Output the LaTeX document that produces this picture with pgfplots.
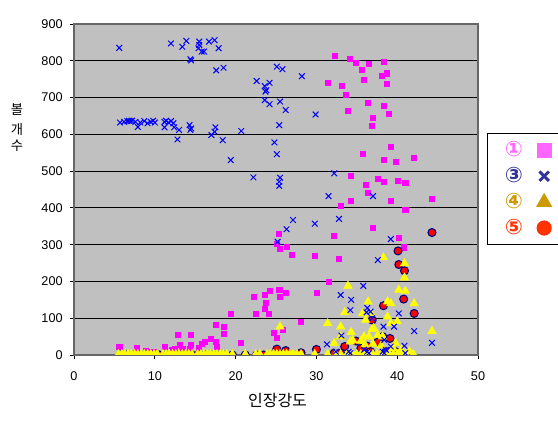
\documentclass[border=0pt]{standalone}
\usepackage{pgfplots}
\pgfplotsset{compat=1.18}
\usepackage{fontspec}
\setmainfont{Liberation Sans}
\newfontfamily\kr{Noto Sans CJK KR}
\newfontfamily\dv{DejaVu Sans}

\definecolor{bggray}{HTML}{C0C0C0}
\definecolor{sqmag}{HTML}{FF00FF}
\definecolor{xblue}{HTML}{0000FF}
\definecolor{triyel}{HTML}{FFFF00}
\definecolor{cirred}{HTML}{FF0000}
\definecolor{navy}{HTML}{000080}
\definecolor{lgpink}{HTML}{FF66FF}
\definecolor{lgnavy}{HTML}{333399}
\definecolor{lggold}{HTML}{CC9900}
\definecolor{lgred}{HTML}{FF3300}

% series 1 (squares)
\pgfplotstableread{
x y
5.6 23
7.8 20
8.9 12
9.4 9
10.0 9
11.2 23
12.1 14
12.5 18
12.8 56
13.1 29
13.4 18
14.4 56
14.4 29
14.3 18
15.4 20
15.8 30
16.2 35
16.9 43
17.5 35
17.7 23
17.6 82
18.5 77
18.5 59
19.4 111
20.6 33
22.2 158
22.5 111
23.6 165
23.7 141
23.6 125
24.1 111
24.2 174
24.7 61
25.1 48
25.8 68
25.4 178
25.5 158
26.2 168
28.1 91
25.3 329
25.1 302
25.5 290
26.3 294
27.0 272
29.8 271
32.8 262
31.5 198
30.0 170
32.2 325
40.2 320
40.8 293
37.0 347
33.0 405
34.3 419
39.2 419
44.3 424
41.0 396
36.3 442
36.1 464
34.2 488
37.6 478
38.3 471
40.1 473
41.0 469
35.7 548
38.3 532
39.8 525
42.1 535
39.2 565
36.9 623
37.0 646
33.9 664
38.9 657
36.4 685
38.3 678
33.6 707
31.4 740
33.1 732
35.9 748
38.7 738
38.1 758
38.7 766
35.6 775
32.3 813
34.1 806
34.9 795
36.5 793
38.3 797
}\sone

% series 3 (crosses)
\pgfplotstableread{
x y
5.6 835
12.0 847
13.4 838
13.9 854
14.4 804
14.5 801
15.5 852
15.5 843
15.4 834
15.8 825
16.1 825
16.7 852
17.4 856
17.9 834
17.6 774
18.5 781
22.6 745
23.6 731
23.8 720
23.7 716
24.2 740
25.1 784
25.8 777
28.2 758
23.6 693
24.2 682
25.5 689
26.2 666
25.4 625
24.8 578
25.1 546
22.2 483
25.5 482
25.4 471
25.4 460
19.4 530
20.7 609
18.4 584
17.5 619
17.0 598
17.4 607
14.3 625
14.5 616
14.4 612
12.8 586
13.0 612
12.4 619
11.2 619
7.9 620
5.7 632
6.2 634
6.6 636
6.8 637
7.0 636
7.2 637
7.6 634
8.2 632
8.7 636
9.1 630
9.5 634
9.8 637
10.0 632
11.2 634
11.4 637
11.7 632
12.0 636
12.3 630
32.2 494
31.5 432
37.0 432
32.8 370
29.9 654
29.8 357
27.1 367
26.3 342
25.2 308
39.2 315
37.6 258
35.8 188
33.0 163
34.3 150
34.2 122
36.3 128
36.2 116
36.7 118
40.2 113
42.1 65
44.3 33
33.1 53
31.3 29
32.4 9
36.9 100
38.3 77
39.6 77
40.9 25
41.0 5
34.0 9
34.2 5
35.9 14
36.3 9
36.5 5
38.2 9
38.4 5
38.6 14
39.2 23
38.4 41
}\sthree

% series 4 (triangles)
\pgfplotstableread{
x y
5.5 2
5.9 2
6.3 2
6.7 2
7.1 2
7.5 2
7.9 2
8.3 2
8.7 2
9.1 2
9.5 2
9.9 2
10.3 2
11.0 2
11.4 2
11.8 2
12.2 2
12.6 2
13.0 2
13.4 2
13.8 2
14.2 2
14.6 2
15.3 2
15.7 2
16.1 2
16.5 2
16.9 2
17.3 2
17.7 2
18.1 2
18.5 2
18.9 2
19.6 2
21.2 2
22.5 2
23.0 2
23.9 2
24.3 2
24.7 2
25.1 2
25.5 2
25.9 2
26.3 2
26.7 2
27.1 2
27.6 2
28.1 2
29.8 2
31.4 2
32.4 2
33.0 2
33.8 2
34.5 2
35.0 2
35.5 2
36.0 2
36.5 2
37.0 2
37.5 2
38.0 2
38.5 2
39.0 2
39.5 2
40.0 2
40.5 2
41.0 2
42.0 2
34.5 40
35.5 38
36.0 28
37.0 30
38.0 25
39.5 18
40.5 15
41.5 10
38.3 265
40.9 249
40.9 210
33.9 188
40.2 177
41.0 174
31.4 86
33.0 77
34.3 62
25.5 77
33.5 116
35.7 113
36.4 145
36.8 113
36.1 95
38.8 145
39.2 140
38.8 104
42.1 140
44.3 65
39.2 86
40.0 91
36.9 70
35.9 50
36.5 50
34.2 36
32.2 32
39.8 32
38.2 50
37.6 54
33.0 50
37.1 73
}\sfour

% series 5 (circles)
\pgfplotstableread{
x y
5.7 0
6.5 0
7.4 0
8.2 0
9.0 0
9.8 0
10.6 0
11.4 0
12.2 0
13.0 0
13.8 0
14.6 0
15.4 0
16.2 0
17.0 0
17.8 0
18.6 0
19.6 0
21.2 0
22.6 0
23.5 0
24.4 0
25.1 16
26.2 12
28.1 6
30.0 15
32.2 5
33.0 5
33.5 23
34.9 38
35.5 18
36.3 24
36.7 9
37.6 35
38.2 50
38.6 9
39.1 45
39.8 9
36.9 95
38.3 134
42.1 113
40.8 152
40.9 229
40.2 246
40.1 283
44.3 333
}\sfive

\begin{document}
\begin{tikzpicture}
\begin{axis}[
    scale only axis,
    width=303pt, height=248.25pt,
    xmin=0, xmax=50, ymin=0, ymax=900,
    xtick={0,10,...,50},
    ytick={0,100,...,900},
    axis background/.style={fill=bggray},
    axis line style={draw=gray!80!black, line width=0.8pt},
    ymajorgrids, grid style={black, line width=0.6pt},
    tick align=outside, major tick length=3pt,
    tick style={black, line width=0.6pt},
    xtick pos=bottom, ytick pos=left,
    tick label style={font=\fontsize{9.5}{11}\selectfont},
    /pgf/number format/assume math mode=true,
    /pgf/number format/1000 sep={},
    xticklabel style={yshift=-6pt},
    yticklabel style={xshift=-2pt},
    every axis x label/.style={at={(rel axis cs:0.5037,-0.136)}, anchor=center,
        font=\kr\fontsize{12}{14}\selectfont},
    every axis y label/.style={at={(rel axis cs:-0.141,0.687)}, anchor=center,
        align=center, font=\kr\fontsize{10}{12}\selectfont},
    xlabel={인장강도},
    ylabel={볼\\[3pt]개\\수},
    clip marker paths=true,
    legend plot pos=right,
    legend image code/.code={%
        \path (0cm,0cm) (0.7cm,0cm);
        \draw[#1] plot coordinates {(0.45cm,0cm)};},
    legend style={at={(rel axis cs:1.022,0.6707)}, anchor=north west,
        draw=black, line width=1pt, fill=white,
        font=\dv\bfseries\fontsize{16}{17}\selectfont,
        inner xsep=11pt, inner ysep=4pt, row sep=2.5pt},
    legend cell align=left,
]
\addplot[only marks, mark=square*, mark size=1.9pt, draw=sqmag, fill=sqmag, forget plot] table {\sone};
\addplot[only marks, mark=*, mark size=3pt, draw=navy, fill=cirred, line width=0.8pt, forget plot] table {\sfive};
\addplot[only marks, mark=triangle*, mark size=3.6pt, draw=triyel, fill=triyel, forget plot] table {\sfour};
\addplot[only marks, mark=x, mark size=3pt, draw=xblue, line width=0.75pt, forget plot] table {\sthree};

\addlegendimage{only marks, mark=square*, mark size=5pt, draw=lgpink, fill=lgpink}
\addlegendentry{\color{lgpink}①}
\addlegendimage{only marks, mark=x, mark size=5pt, draw=lgnavy, line width=2.2pt}
\addlegendentry{\color{lgnavy}③}
\addlegendimage{only marks, mark=triangle*, mark size=6pt, draw=lggold, fill=lggold}
\addlegendentry{\color{lggold}④}
\addlegendimage{only marks, mark=*, mark size=5.2pt, draw=lgred, fill=lgred}
\addlegendentry{\color{lgred}⑤}

\coordinate (bbl) at (rel axis cs:-0.1832,-0.2115);
\coordinate (btr) at (rel axis cs:1.198,1.0725);
\end{axis}
\pgfresetboundingbox
\path[use as bounding box] (bbl) rectangle (btr);
\end{tikzpicture}
\end{document}
